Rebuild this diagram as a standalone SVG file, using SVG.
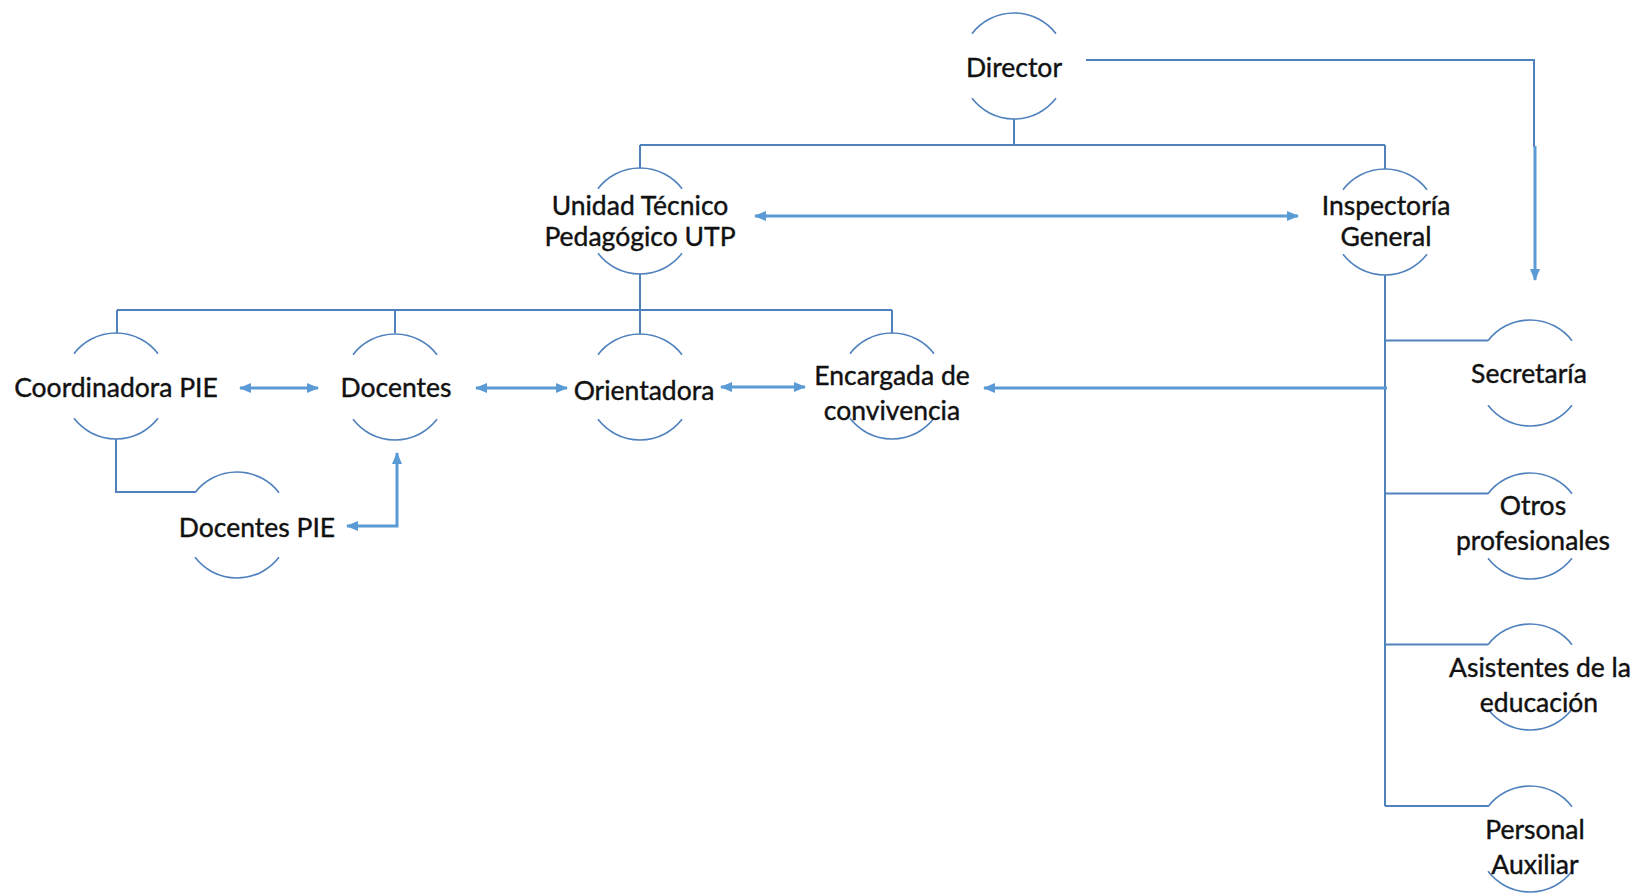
<svg xmlns="http://www.w3.org/2000/svg" width="1637" height="893" viewBox="0 0 1637 893">
  <defs>
    <style>
      .arc { fill: none; stroke: #4f81bd; stroke-width: 1.6; }
      .tree { fill: none; stroke: #4f81bd; stroke-width: 2; }
      .link { fill: none; stroke: #5b9bd5; stroke-width: 3; }
      .lbl { font-family: Lato, "Liberation Sans", sans-serif; font-size: 26.5px; fill: #111; stroke: #111; stroke-width: 0.4; text-anchor: middle; }
    </style>
    <marker id="ah" viewBox="0 0 12 10" refX="11" refY="5" markerWidth="12" markerHeight="10" markerUnits="userSpaceOnUse" orient="auto-start-reverse">
      <path d="M0,0 L12,5 L0,10 z" fill="#5b9bd5"/>
    </marker>
    <!-- open "circle" outline: upper and lower arcs only, centred on 0,0 -->
    <g id="ring">
      <path class="arc" d="M-42,-32.3 A53,53 0 0 1 42,-32.3"/>
      <path class="arc" d="M-42,32.3 A53,53 0 0 0 42,32.3"/>
    </g>
  </defs>

  <rect width="1637" height="893" fill="#fff"/>

  <g id="connectors">
    <!-- hierarchy lines -->
    <path class="tree" d="M1014,119 V145 M640,145 H1385 M640,145 V168 M1385,145 V169"/>
    <path class="tree" d="M640,274 V310 M117,310 H892 M117,310 V333 M395,310 V333 M640,310 V334 M892,310 V333"/>
    <path class="tree" d="M116,439 V492 H195"/>
    <path class="tree" d="M1385,275 V806 M1385,340.5 H1488 M1385,493.5 H1488 M1385,644.5 H1488 M1385,806 H1488"/>
    <path class="tree" d="M1086,60 H1534 V147"/>
    <path class="link" d="M1535,146 V280" marker-end="url(#ah)"/>
    <!-- two-way links -->
    <path class="link" d="M755,216 H1298" marker-start="url(#ah)" marker-end="url(#ah)"/>
    <path class="link" d="M240,388 H318" marker-start="url(#ah)" marker-end="url(#ah)"/>
    <path class="link" d="M476,388 H567" marker-start="url(#ah)" marker-end="url(#ah)"/>
    <path class="link" d="M721,387 H805" marker-start="url(#ah)" marker-end="url(#ah)"/>
    <path class="link" d="M1387,388 H984" marker-end="url(#ah)"/>
    <path class="link" d="M347,526 H397 V453" marker-start="url(#ah)" marker-end="url(#ah)"/>
  </g>

  <g id="director">
    <use href="#ring" x="1014" y="66"/>
    <text class="lbl" x="1014" y="76.5">Director</text>
  </g>
  <g id="utp">
    <use href="#ring" x="640" y="221"/>
    <text class="lbl" x="640" y="214.5">Unidad Técnico</text>
    <text class="lbl" x="640" y="245.5">Pedagógico UTP</text>
  </g>
  <g id="inspectoria">
    <use href="#ring" x="1385" y="222"/>
    <text class="lbl" x="1386" y="214.5">Inspectoría</text>
    <text class="lbl" x="1386" y="245.5">General</text>
  </g>
  <g id="coordinadora">
    <use href="#ring" x="116" y="386"/>
    <text class="lbl" x="116" y="396.5">Coordinadora PIE</text>
  </g>
  <g id="docentes">
    <use href="#ring" x="395" y="387"/>
    <text class="lbl" x="396" y="396.5">Docentes</text>
  </g>
  <g id="orientadora">
    <use href="#ring" x="640" y="387"/>
    <text class="lbl" x="644" y="399.5">Orientadora</text>
  </g>
  <g id="encargada">
    <use href="#ring" x="892" y="386"/>
    <text class="lbl" x="892" y="384.5">Encargada de</text>
    <text class="lbl" x="892" y="419.5">convivencia</text>
  </g>
  <g id="docentes-pie">
    <use href="#ring" x="237" y="525"/>
    <text class="lbl" x="257" y="536.5">Docentes PIE</text>
  </g>
  <g id="secretaria">
    <use href="#ring" x="1530" y="373"/>
    <text class="lbl" x="1529" y="382.5">Secretaría</text>
  </g>
  <g id="otros">
    <use href="#ring" x="1530" y="526"/>
    <text class="lbl" x="1533" y="514.5">Otros</text>
    <text class="lbl" x="1533" y="549.5">profesionales</text>
  </g>
  <g id="asistentes">
    <use href="#ring" x="1530" y="677"/>
    <text class="lbl" x="1540" y="676.5">Asistentes de la</text>
    <text class="lbl" x="1539" y="711.5">educación</text>
  </g>
  <g id="personal">
    <use href="#ring" x="1530" y="839"/>
    <text class="lbl" x="1535" y="838.5">Personal</text>
    <text class="lbl" x="1535" y="873.5">Auxiliar</text>
  </g>
</svg>
